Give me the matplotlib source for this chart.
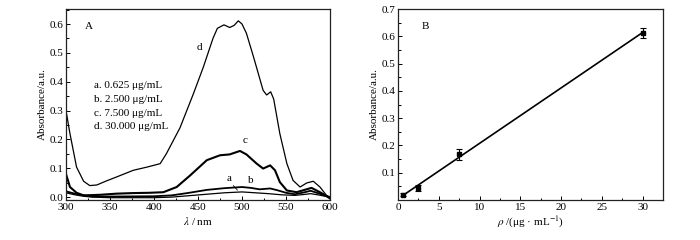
import numpy as np
import matplotlib
matplotlib.use("Agg")
import matplotlib.pyplot as plt
from matplotlib.ticker import MultipleLocator

plt.rcParams['font.family'] = ['Liberation Serif', 'DejaVu Serif']
plt.rcParams['mathtext.fontset'] = 'stix'

# ---- Panel A: absorption spectra ----
wl_d = [300, 304.5, 312, 320, 327, 335, 345, 357.6, 376.5, 392, 407, 414, 429.5, 445, 456,
        467, 472, 479.5, 486, 491, 495.8, 500, 505, 513, 524, 528, 532.6, 536, 543, 551,
        558, 566, 573.5, 581, 588.6, 596, 600]
abs_d = [0.30, 0.22, 0.104, 0.055, 0.040, 0.042, 0.055, 0.070, 0.093, 0.104, 0.116, 0.15,
         0.24, 0.36, 0.45, 0.55, 0.585, 0.597, 0.588, 0.595, 0.611, 0.600, 0.568, 0.487,
         0.37, 0.354, 0.365, 0.34, 0.22, 0.116, 0.058, 0.035, 0.049, 0.055, 0.035, 0.006, 0.0]

wl_c = [300, 304.5, 312, 320, 338.6, 357.6, 376.5, 395, 410.6, 425.8, 441, 460, 475, 486,
        497.7, 505, 516.7, 524, 532, 537.5, 543, 551, 562, 571, 579, 588.6, 596, 600]
abs_c = [0.080, 0.035, 0.015, 0.006, 0.008, 0.012, 0.014, 0.015, 0.017, 0.035, 0.075, 0.128,
         0.145, 0.148, 0.160, 0.148, 0.116, 0.099, 0.110, 0.093, 0.052, 0.023, 0.017, 0.025,
         0.032, 0.017, 0.004, -0.005]

wl_b = [300, 310, 320, 330, 350, 400, 420, 440, 460, 480, 500, 510, 520, 532, 540, 550,
        560, 570, 578, 588, 596, 600]
abs_b = [0.020, 0.012, 0.006, 0.002, 0.002, 0.003, 0.006, 0.015, 0.025, 0.031, 0.035, 0.032,
         0.027, 0.030, 0.024, 0.015, 0.010, 0.016, 0.022, 0.012, 0.003, 0.0]

wl_a = [300, 310, 320, 330, 350, 400, 420, 440, 460, 480, 500, 515, 530, 545, 560, 570,
        578, 588, 596, 600]
abs_a = [0.015, 0.008, 0.003, 0.000, -0.002, -0.002, 0.000, 0.005, 0.010, 0.015, 0.018,
         0.015, 0.012, 0.008, 0.006, 0.009, 0.012, 0.007, 0.002, 0.0]

legend_lines = ["a. 0.625 μg/mL", "b. 2.500 μg/mL", "c. 7.500 μg/mL", "d. 30.000 μg/mL"]

# ---- Panel B: calibration ----
conc = [0.625, 2.5, 7.5, 30.0]
absorb = [0.019, 0.044, 0.168, 0.612]
err = [0.006, 0.010, 0.020, 0.020]

fig = plt.figure(figsize=(7.0, 2.4), dpi=100)
axA = fig.add_axes([66/700, 1-200/240, (330-66)/700, (200-9)/240])
axB = fig.add_axes([398/700, 1-200/240, (663-398)/700, (200-9)/240])

fs = 8
for ax in (axA, axB):
    for s in ax.spines.values():
        s.set_linewidth(0.9)
        s.set_color('#222222')
    ax.tick_params(which='both', direction='in', top=False, right=False,
                   labelsize=fs, width=0.7, pad=2)
    ax.tick_params(which='major', length=3)
    ax.tick_params(which='minor', length=1.8)

axA.plot(wl_d, abs_d, color='black', lw=0.9)
axA.plot(wl_c, abs_c, color='black', lw=1.5)
axA.plot(wl_b, abs_b, color='black', lw=1.3)
axA.plot(wl_a, abs_a, color='black', lw=0.9)
axA.set_xlim(300, 600)
axA.set_ylim(-0.01, 0.652)
axA.xaxis.set_major_locator(MultipleLocator(50))
axA.xaxis.set_minor_locator(MultipleLocator(25))
axA.yaxis.set_major_locator(MultipleLocator(0.1))
axA.yaxis.set_minor_locator(MultipleLocator(0.05))
axA.set_xlabel(r'$\lambda$ / nm', fontsize=fs, labelpad=2)
axA.set_ylabel('Absorbance/a.u.', fontsize=fs, labelpad=2)
axA.text(0.07, 0.93, 'A', transform=axA.transAxes, fontsize=fs, va='top', ha='left')
for i, t in enumerate(legend_lines):
    axA.text(0.105, 0.625 - i*0.073, t, transform=axA.transAxes, fontsize=fs, va='top', ha='left')
axA.text(452, 0.52, 'd', fontsize=fs, ha='center', va='center')
axA.text(503, 0.195, 'c', fontsize=fs, ha='center', va='center')
axA.text(485, 0.063, 'a', fontsize=fs, ha='center', va='center')
axA.text(510, 0.058, 'b', fontsize=fs, ha='center', va='center')
axA.annotate('', xy=(497, 0.017), xytext=(488, 0.047),
             arrowprops=dict(arrowstyle='-', lw=0.6, color='black'))

k, b0 = np.polyfit(conc, absorb, 1)
xs = np.array([min(conc), max(conc)])
axB.plot(xs, k*xs + b0, color='black', lw=1.2)
axB.errorbar(conc, absorb, yerr=err, fmt='s', color='black', ms=3.5,
             capsize=2, elinewidth=0.8, capthick=0.8)
axB.set_xlim(0, 32.5)
axB.set_ylim(0, 0.7)
axB.xaxis.set_major_locator(MultipleLocator(5))
axB.xaxis.set_minor_locator(MultipleLocator(2.5))
axB.set_yticks([0.1, 0.2, 0.3, 0.4, 0.5, 0.6, 0.7])
axB.yaxis.set_minor_locator(MultipleLocator(0.05))
axB.set_xlabel(r'$\rho$ /(μg · mL$^{-1}$)', fontsize=fs, labelpad=2)
axB.set_ylabel('Absorbance/a.u.', fontsize=fs, labelpad=2)
axB.text(0.09, 0.93, 'B', transform=axB.transAxes, fontsize=fs, va='top', ha='left')

fig.savefig('out.png', dpi=100)
